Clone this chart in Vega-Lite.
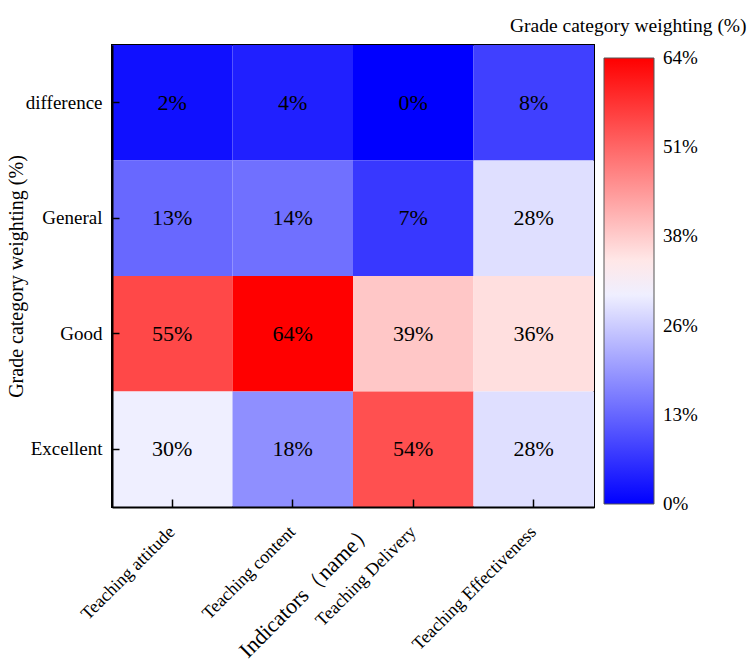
{
  "$schema": "https://vega.github.io/schema/vega-lite/v6.json",
  "autosize": "none",
  "padding": {"left": 112, "top": 45, "right": 157, "bottom": 159},
  "width": 482,
  "height": 462,
  "background": "white",
  "config": {
    "font": "Liberation Serif",
    "view": {"stroke": "black", "strokeWidth": 2}
  },
  "title": {
    "text": "Grade category weighting (%)",
    "anchor": "start",
    "frame": "group",
    "dx": 398,
    "offset": 9,
    "font": "Liberation Serif",
    "fontSize": 19.5,
    "fontWeight": "normal",
    "color": "black"
  },
  "data": {
    "values": [
      {"indicator": "Teaching attitude", "grade": "difference", "value": 0.02},
      {"indicator": "Teaching content", "grade": "difference", "value": 0.04},
      {"indicator": "Teaching Delivery", "grade": "difference", "value": 0.0},
      {"indicator": "Teaching Effectiveness", "grade": "difference", "value": 0.08},
      {"indicator": "Teaching attitude", "grade": "General", "value": 0.13},
      {"indicator": "Teaching content", "grade": "General", "value": 0.14},
      {"indicator": "Teaching Delivery", "grade": "General", "value": 0.07},
      {"indicator": "Teaching Effectiveness", "grade": "General", "value": 0.28},
      {"indicator": "Teaching attitude", "grade": "Good", "value": 0.55},
      {"indicator": "Teaching content", "grade": "Good", "value": 0.64},
      {"indicator": "Teaching Delivery", "grade": "Good", "value": 0.39},
      {"indicator": "Teaching Effectiveness", "grade": "Good", "value": 0.36},
      {"indicator": "Teaching attitude", "grade": "Excellent", "value": 0.30},
      {"indicator": "Teaching content", "grade": "Excellent", "value": 0.18},
      {"indicator": "Teaching Delivery", "grade": "Excellent", "value": 0.54},
      {"indicator": "Teaching Effectiveness", "grade": "Excellent", "value": 0.28}
    ]
  },
  "resolve": {"axis": {"x": "independent", "y": "independent"}},
  "layer": [
    {
      "mark": {"type": "rect"},
      "encoding": {
        "x": {
          "field": "indicator",
          "type": "nominal",
          "sort": ["Teaching attitude", "Teaching content", "Teaching Delivery", "Teaching Effectiveness"],
          "scale": {"paddingInner": 0, "paddingOuter": 0},
          "axis": {
            "orient": "bottom",
            "title": "Indicators（name）",
            "titleFont": "Liberation Serif",
            "titleFontSize": 22,
            "titleFontWeight": "normal",
            "titleColor": "black",
            "titleAngle": -45,
            "titleX": 194,
            "titleY": 83,
            "titleAlign": "center",
            "titleBaseline": "middle",
            "labelAngle": -45,
            "labelAlign": "right",
            "labelBaseline": "middle",
            "labelFont": "Liberation Serif",
            "labelFontSize": 18,
            "labelColor": "black",
            "labelPadding": 22,
            "labelDx": 17,
            "ticks": true,
            "tickSize": 0,
            "domainColor": "black",
            "domainWidth": 2,
            "labelLimit": 300
          }
        },
        "y": {
          "field": "grade",
          "type": "nominal",
          "sort": ["difference", "General", "Good", "Excellent"],
          "scale": {"paddingInner": 0, "paddingOuter": 0},
          "axis": {
            "orient": "left",
            "title": "Grade category weighting (%)",
            "titleFont": "Liberation Serif",
            "titleFontSize": 20,
            "titleFontWeight": "normal",
            "titleColor": "black",
            "titleX": -86,
            "labelFont": "Liberation Serif",
            "labelFontSize": 19,
            "labelColor": "black",
            "labelPadding": 10,
            "ticks": true,
            "tickSize": 0,
            "domainColor": "black",
            "domainWidth": 2
          }
        },
        "color": {
          "field": "value",
          "type": "quantitative",
          "scale": {"domain": [0, 0.32, 0.64], "range": ["#0000ff", "#ffffff", "#ff0000"], "interpolate": "rgb"},
          "legend": {
            "orient": "none",
            "legendX": 492,
            "legendY": 13,
            "title": null,
            "direction": "vertical",
            "gradientLength": 446,
            "gradientThickness": 50,
            "gradientStrokeColor": "#555555",
            "gradientStrokeWidth": 1,
            "values": [0, 0.128, 0.256, 0.384, 0.512, 0.64],
            "format": ".0%",
            "labelFont": "Liberation Serif",
            "labelFontSize": 19,
            "labelColor": "black",
            "labelOffset": 9,
            "labelOverlap": false,
            "encode": {
              "labels": {"update": {"baseline": {"value": "middle"}}}
            }
          }
        }
      }
    },
    {
      "mark": {"type": "text", "font": "Liberation Serif", "fontSize": 22, "color": "black"},
      "encoding": {
        "x": {
          "field": "indicator",
          "type": "nominal",
          "sort": ["Teaching attitude", "Teaching content", "Teaching Delivery", "Teaching Effectiveness"],
          "axis": {
            "orient": "bottom",
            "offset": -8,
            "zindex": 1,
            "title": null,
            "labels": false,
            "domain": false,
            "grid": false,
            "ticks": true,
            "tickSize": 8,
            "tickColor": "black",
            "tickWidth": 1.5
          }
        },
        "y": {
          "field": "grade",
          "type": "nominal",
          "sort": ["difference", "General", "Good", "Excellent"],
          "axis": {
            "orient": "left",
            "offset": -7,
            "zindex": 1,
            "title": null,
            "labels": false,
            "domain": false,
            "grid": false,
            "ticks": true,
            "tickSize": 7,
            "tickColor": "black",
            "tickWidth": 1.5
          }
        },
        "text": {"field": "value", "type": "quantitative", "format": ".0%"}
      }
    }
  ]
}
